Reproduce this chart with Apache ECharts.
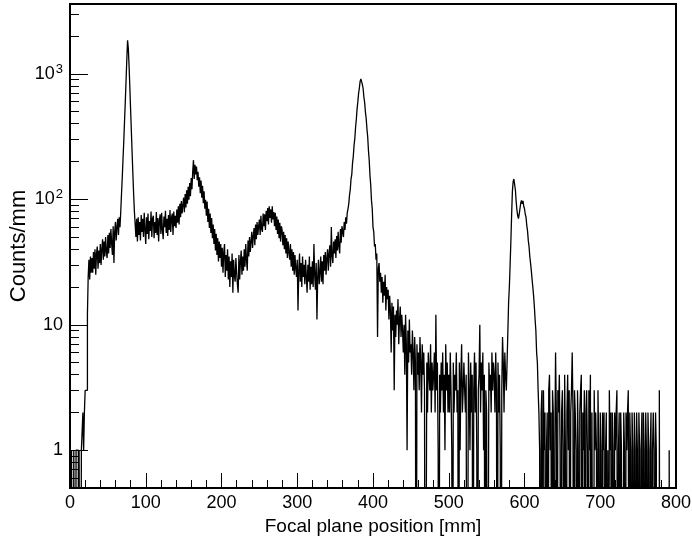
<!DOCTYPE html>
<html>
<head>
<meta charset="utf-8">
<script src="https://cdn.jsdelivr.net/npm/echarts@6/dist/echarts.min.js"></script>
<style>
html,body{margin:0;padding:0;background:#fff;}
#chart{width:692px;height:540px;}
</style>
</head>
<body>
<div id="chart"></div>
<script>
// Histogram: counts per 1 mm bin, bins start at X_START mm
const X_START = 0;
const BIN_WIDTH = 1;
const counts = [
  1,0,1,1,0,1,1,0,1,1,
  1,0,1,1,0,1,1,2,1,2,
  3,3,3,12,24,33,23,35,26,34,
  26,38,28,40,25,37,42,28,39,31,
  44,30,40,48,33,46,35,50,38,34,
  52,37,54,41,58,44,36,61,31,55,
  66,47,60,70,52,72,60,80,110,150,
  210,290,420,600,880,1300,1850,1600,1150,780,
  520,350,235,160,110,80,64,50,70,46,
  72,52,66,47,75,55,70,50,78,57,
  44,72,53,77,48,67,56,80,50,70,
  74,49,66,54,79,52,71,46,68,76,
  53,78,57,48,73,60,81,54,70,51,
  75,57,82,55,71,77,52,80,61,74,
  59,83,65,88,63,92,72,97,77,90,
  103,79,110,86,118,92,126,99,135,106,
  148,120,166,205,145,188,158,182,142,166,
  126,150,112,141,103,128,93,116,84,99,
  74,96,66,84,59,77,54,71,49,63,
  44,58,39,53,36,49,32,46,34,44,
  29,41,26,38,44,24,36,27,40,23,
  35,20,32,24,37,18,33,25,22,34,
  26,21,18,36,23,32,39,25,35,27,
  40,29,44,33,27,47,35,50,38,46,
  55,41,51,59,43,63,48,66,52,61,
  69,52,74,58,55,77,61,76,57,81,
  67,85,63,88,71,83,65,88,69,79,
  61,78,57,73,53,69,49,65,46,61,
  57,43,55,40,52,37,49,34,46,38,
  33,44,29,40,27,38,25,36,28,24,
  33,13,27,37,22,31,20,35,24,30,
  21,33,24,18,30,22,35,19,29,21,
  32,20,44,25,19,31,11,24,33,21,
  26,35,22,32,21,36,27,38,25,34,
  40,27,37,43,29,60,35,31,46,37,
  48,34,51,39,55,42,37,58,45,61,
  62,50,66,57,72,64,78,84,92,108,
  120,145,158,195,220,270,305,375,435,525,
  600,700,770,870,910,905,820,760,650,590,
  495,440,365,315,245,205,155,130,98,84,
  60,55,42,44,33,37,8,28,31,22,
  26,18,24,15,22,17,25,13,20,16,
  19,11,17,13,6,15,9,14,3,12,
  8,13,10,16,7,11,14,8,12,9,
  6,10,4,12,7,1,9,5,11,6,
  7,4,9,6,3,8,5,0,7,4,
  6,3,8,5,2,7,4,6,3,0,
  0,5,2,6,4,3,7,2,5,3,
  4,6,2,12,3,5,1,0,4,2,
  5,3,6,2,4,1,7,3,5,2,
  4,2,6,3,1,0,5,2,4,3,
  6,2,3,0,5,1,4,7,2,3,
  5,3,2,4,0,0,6,3,1,5,
  2,4,0,3,6,2,5,1,0,3,
  4,10,2,5,3,6,1,4,0,3,
  2,0,0,5,3,4,2,6,3,5,
  4,2,6,3,0,5,2,4,1,0,
  3,8,5,2,6,4,3,5,5,15,
  20,30,46,75,115,138,145,140,118,96,
  82,74,70,76,84,93,98,92,97,88,
  84,76,72,62,56,47,42,35,31,27,
  23,20,17,14,11,9,6,5,3,2,
  1,0,2,3,0,3,1,2,0,1,
  2,0,3,4,1,2,0,3,2,0,
  1,6,2,0,3,2,4,1,0,2,
  3,1,0,4,1,0,2,4,1,3,
  0,2,3,6,2,0,3,2,1,0,
  3,1,0,2,3,4,0,2,1,3,
  0,2,3,1,0,3,1,4,0,2,
  2,0,3,1,2,1,0,3,1,0,
  2,1,0,2,1,2,0,1,2,0,
  1,0,3,1,2,0,2,1,0,2,
  1,2,3,0,1,2,0,2,1,1,
  0,2,1,0,2,1,2,3,0,2,
  1,0,2,1,0,2,1,0,2,1,
  0,2,1,0,1,2,0,2,1,0,
  2,1,0,2,1,0,1,2,0,1,
  2,1,0,2,1,0,0,0,3,0,
  0,0,0,0,0,0,0,0,0,0,
  0,1,0,0,0,0,0,0,0,0
];
const xTicks = [0,100,200,300,400,500,600,700,800];
const yMajorTicks = [1,10,100,1000];
const yMinorTicks = [0.6,0.7,0.8,0.9,2,3,4,5,6,7,8,9,20,30,40,50,60,70,80,90,200,300,400,500,600,700,800,900,2000,3000];
const X_MIN = 0, X_MAX = 800;
const Y_MIN = 0.5, Y_MAX = 3600;
const X_TITLE = 'Focal plane position [mm]';
const Y_TITLE = 'Counts/mm';

// Zero-count bins go below the log axis floor (drawn to the frame bottom, like ROOT)
const ZERO_FLOOR = 1e-3;
const seriesData = counts.map((c, i) => [X_START + (i + 0.5) * BIN_WIDTH, c > 0 ? c : ZERO_FLOOR]);

const FONT = 'Liberation Sans, Arial, Helvetica, sans-serif';
const chart = echarts.init(document.getElementById('chart'), null, {renderer: 'canvas'});
const supMap = {1: '', 10: '', 100: '2', 1000: '3'};
chart.setOption({
  animation: false,
  backgroundColor: '#fff',
  grid: {left: 70, right: 16, top: 4, bottom: 52, show: true, borderColor: '#000', borderWidth: 2,
         backgroundColor: 'transparent', containLabel: false, outerBoundsMode: 'none'},
  xAxis: {
    type: 'value', min: X_MIN, max: X_MAX, interval: 100,
    name: X_TITLE, nameLocation: 'middle', nameGap: 29, nameMoveOverlap: false,
    nameTextStyle: {fontFamily: FONT, fontSize: 19, color: '#000'},
    axisLine: {show: true, lineStyle: {color: '#000', width: 2}},
    axisTick: {show: true, inside: true, length: 15, lineStyle: {color: '#000', width: 1}},
    minorTick: {show: true, splitNumber: 5, length: 8, lineStyle: {color: '#000', width: 1}},
    axisLabel: {fontFamily: FONT, fontSize: 18, color: '#000', margin: 6,
      customValues: xTicks},
    splitLine: {show: false}
  },
  yAxis: [{
    type: 'log', logBase: 10, min: Y_MIN, max: Y_MAX,
    name: Y_TITLE, nameLocation: 'middle', nameGap: 40, nameMoveOverlap: false,
    nameTextStyle: {fontFamily: FONT, fontSize: 22, color: '#000'},
    axisLine: {show: true, lineStyle: {color: '#000', width: 2}},
    axisTick: {show: true, inside: true, length: 18, customValues: yMajorTicks, lineStyle: {color: '#000', width: 1}},
    axisLabel: {
      customValues: yMajorTicks, margin: 7, color: '#000',
      formatter: function (v) {
        const r = Math.round(v);
        const s = supMap[r];
        return s ? '{b|10}{s|' + s + '}' : '{b|' + r + '}';
      },
      rich: {
        b: {fontFamily: FONT, fontSize: 18, color: '#000'},
        s: {fontFamily: FONT, fontSize: 13, color: '#000', verticalAlign: 'top', padding: [0, 0, 9, 1]}
      }
    },
    splitLine: {show: false}
  }, {
    type: 'log', logBase: 10, min: Y_MIN, max: Y_MAX, position: 'left', offset: 0,
    axisLine: {show: false},
    axisTick: {show: true, inside: true, length: 9, customValues: yMinorTicks, lineStyle: {color: '#000', width: 1}},
    axisLabel: {show: false},
    splitLine: {show: false}
  }],
  series: [{
    type: 'line', data: seriesData, xAxisIndex: 0, yAxisIndex: 0,
    step: 'middle', symbol: 'none', showSymbol: false, sampling: false,
    clip: true,
    lineStyle: {color: '#000', width: 1.3},
    silent: true
  }]
});
</script>
</body>
</html>
